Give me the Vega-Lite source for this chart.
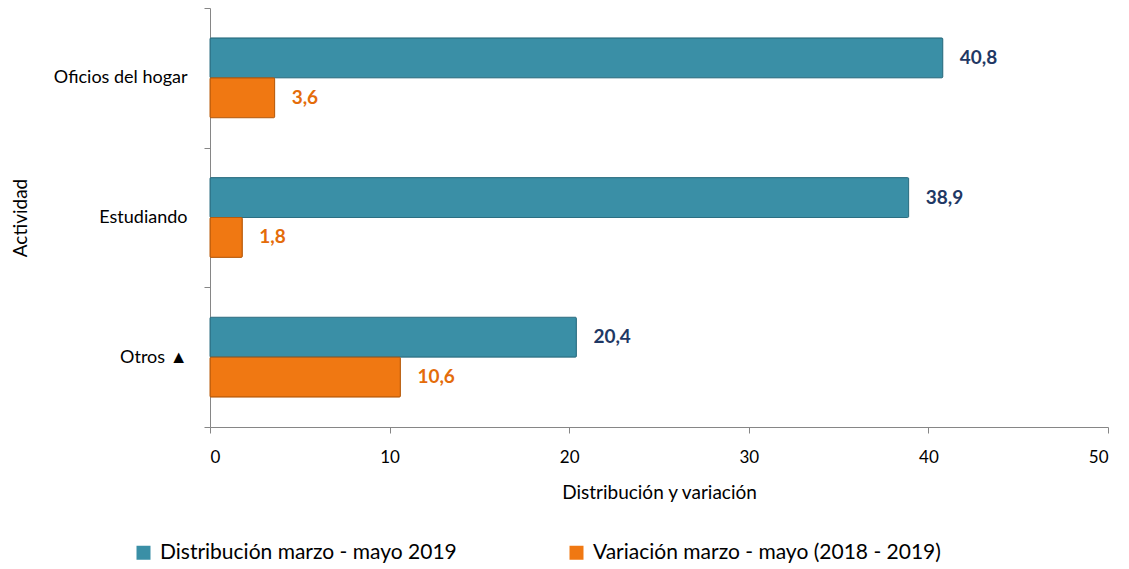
{
  "$schema": "https://vega.github.io/schema/vega-lite/v6.json",
  "width": 898,
  "height": 419,
  "autosize": {"type": "none"},
  "padding": {"left": 210, "top": 8, "right": 21, "bottom": 142},
  "config": {
    "locale": {"number": {"decimal": ",", "thousands": ".", "grouping": [3], "currency": ["", ""]}},
    "font": "Lato",
    "view": {"stroke": null},
    "axis": {"domainColor": "#868686", "tickColor": "#868686", "grid": false, "labelColor": "#000000", "titleColor": "#000000", "labelFont": "Lato", "titleFont": "Lato", "labelFontSize": 17, "titleFontSize": 19, "titleFontWeight": "normal", "tickSize": 6}
  },
  "data": {
    "values": [
      {"actividad": "Oficios del hogar", "serie": "Distribución marzo - mayo  2019", "valor": 40.8},
      {"actividad": "Oficios del hogar", "serie": "Variación marzo - mayo (2018 - 2019)", "valor": 3.6},
      {"actividad": "Estudiando", "serie": "Distribución marzo - mayo  2019", "valor": 38.9},
      {"actividad": "Estudiando", "serie": "Variación marzo - mayo (2018 - 2019)", "valor": 1.8},
      {"actividad": "Otros ▲", "serie": "Distribución marzo - mayo  2019", "valor": 20.4},
      {"actividad": "Otros ▲", "serie": "Variación marzo - mayo (2018 - 2019)", "valor": 10.6}
    ]
  },
  "encoding": {
    "y": {
      "field": "actividad", "type": "nominal", "sort": null,
      "scale": {"paddingInner": 0, "paddingOuter": 0},
      "axis": {"title": "Actividad", "tickBand": "extent", "labelPadding": 17, "titlePadding": 23, "labelFontSize": 18, "domainWidth": 1}
    },
    "yOffset": {
      "field": "serie", "type": "nominal", "sort": null,
      "scale": {"paddingInner": 0, "paddingOuter": 0.75}
    },
    "x": {
      "field": "valor", "type": "quantitative",
      "scale": {"domain": [0, 50], "nice": false},
      "axis": {"title": "Distribución y variación", "values": [0, 10, 20, 30, 40, 50], "labelPadding": 16, "titlePadding": 18}
    }
  },
  "layer": [
    {
      "mark": {"type": "bar", "strokeWidth": 1, "cornerRadius": 1},
      "encoding": {
        "color": {
          "field": "serie", "type": "nominal", "sort": null,
          "scale": {"range": ["#3A8FA6", "#F07812"]},
          "legend": {"orient": "none", "legendX": -77, "legendY": 534, "direction": "horizontal", "title": null, "symbolType": "square", "symbolSize": 196, "labelFontSize": 21, "labelFont": "Lato", "labelColor": "#000000", "labelLimit": 600, "columnPadding": 103, "symbolStrokeWidth": 0, "labelOffset": 6}
        },
        "stroke": {
          "field": "serie", "type": "nominal", "sort": null,
          "scale": {"range": ["#2C6F82", "#B85A0A"]},
          "legend": null
        }
      }
    },
    {
      "mark": {"type": "text", "align": "left", "dx": 17, "fontWeight": "bold", "fontSize": 19},
      "encoding": {
        "text": {"field": "valor", "type": "quantitative", "format": ".1f"},
        "color": {
          "field": "serie", "type": "nominal", "sort": null,
          "scale": {"range": ["#1F3864", "#E46C0A"]},
          "legend": null
        }
      }
    }
  ],
  "resolve": {"scale": {"color": "independent"}}
}
